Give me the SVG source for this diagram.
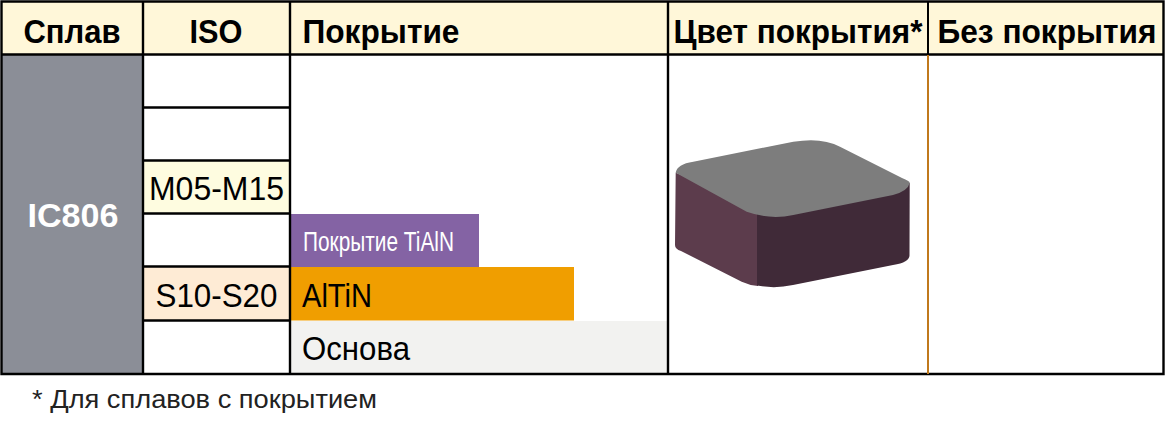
<svg xmlns="http://www.w3.org/2000/svg" width="1165" height="427" viewBox="0 0 1165 427">
<style>
text{font-family:"Liberation Sans",Arial,sans-serif;fill:#000}
.h{font-size:33px;font-weight:700;text-anchor:middle}
.r{font-size:34px;text-anchor:middle}
.l{stroke:#000;stroke-width:2.4;fill:none}
</style>
<rect width="1165" height="427" fill="#fff"/>
<g id="header">
<rect x="1" y="1" width="1163" height="53" fill="#fff7d9"/>
<text class="h" x="72" y="43" textLength="97" lengthAdjust="spacingAndGlyphs">Сплав</text>
<text class="h" x="216" y="43" textLength="53" lengthAdjust="spacingAndGlyphs">ISO</text>
<text class="h" x="381" y="43" textLength="157" lengthAdjust="spacingAndGlyphs">Покрытие</text>
<text class="h" x="798" y="43" textLength="249" lengthAdjust="spacingAndGlyphs">Цвет покрытия*</text>
<text class="h" x="1047" y="43" textLength="219" lengthAdjust="spacingAndGlyphs">Без покрытия</text>
</g>
<g id="alloy">
<rect x="2" y="55" width="141" height="319" fill="#8b8e97"/>
<text x="73" y="227" font-size="34" font-weight="700" text-anchor="middle" style="fill:#fff" textLength="91" lengthAdjust="spacingAndGlyphs">IC806</text>
</g>
<g id="iso-m">
<rect x="144" y="161" width="146" height="52" fill="#fefce0"/>
<text class="r" x="216.500" y="200" textLength="135" lengthAdjust="spacingAndGlyphs">M05-M15</text>
</g>
<g id="iso-s">
<rect x="144" y="267" width="146" height="53" fill="#feebd5"/>
<text class="r" x="216.500" y="307" textLength="122" lengthAdjust="spacingAndGlyphs">S10-S20</text>
</g>
<g id="layer-tialn">
<rect x="291" y="214" width="188" height="53" fill="#8463a4"/>
<text x="303" y="251" font-size="27" style="fill:#fff" textLength="151" lengthAdjust="spacingAndGlyphs">Покрытие TiAlN</text>
</g>
<g id="layer-altin">
<rect x="291" y="267" width="283" height="53.500" fill="#f09e00"/>
<text x="302" y="307" font-size="34" textLength="70" lengthAdjust="spacingAndGlyphs">AlTiN</text>
</g>
<g id="layer-base">
<rect x="291" y="321" width="376" height="52" fill="#f2f2f0"/>
<text x="302" y="360" font-size="34" textLength="108" lengthAdjust="spacingAndGlyphs">Основа</text>
</g>
<g id="insert">
<path d="M675.700 172.700 L675 245 Q675 249 681 251 L741.700 281.700 Q750 285.500 758 286 L758 205 Z" fill="#5c3c4c"/>
<path d="M757 205 L757 285.500 Q775 289 793 285 L893 265 Q910 262 909.500 255 L909.700 183 Z" fill="#402a38"/>
<path d="M675.700 172.700 Q677 164 693.300 161.700 L793.300 141.700 Q822 137 840 146.700 L902 178 Q910 181 909.700 183 Q908 191 893 195 L793.300 215 Q770 220 746.700 211.700 Z" fill="#7d7d7d"/>
</g>
<g id="connectors">
<path class="l" d="M1.500 1.500H1163.500V374H1.500Z"/>
<path class="l" d="M1.500 54.500H1163.500M143 1.500V374M290 1.500V374M668 1.500V374"/>
<path class="l" d="M143 107.500H290M143 160.500H290M143 213.500H290M143 266.500H290M143 320.500H290"/>
<path d="M928 1.500V54" stroke="#000" stroke-width="2" fill="none"/>
<path d="M928 55V374" stroke="#c0791c" stroke-width="2" fill="none"/>
</g>
<text id="note" x="32" y="408" font-size="26" style="fill:#222" textLength="345" lengthAdjust="spacingAndGlyphs">* Для сплавов с покрытием</text>
</svg>
